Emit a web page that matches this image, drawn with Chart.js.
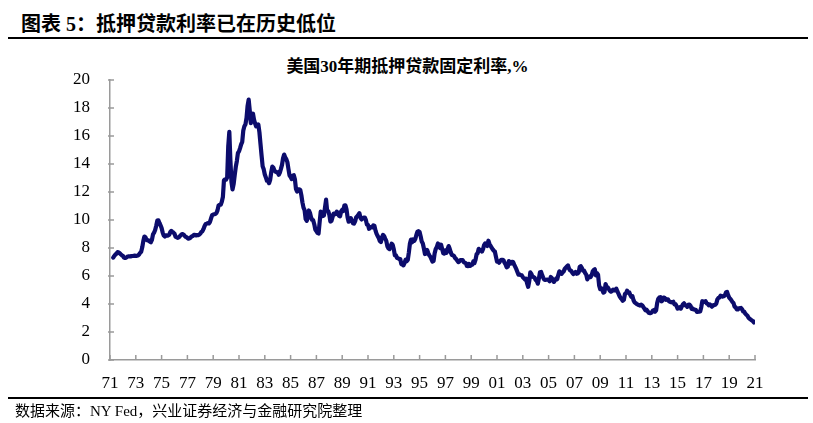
<!DOCTYPE html>
<html>
<head>
<meta charset="utf-8">
<script src="https://cdn.jsdelivr.net/npm/chart.js@4"></script>
<style>
  html, body { margin: 0; padding: 0; background: #fff; }
  #wrap { position: relative; width: 813px; height: 423px; overflow: hidden; font-family: 'Liberation Serif', 'Noto Sans CJK SC', serif; }
  #hdr { position: absolute; left: 21px; top: 8px; font-size: 20px; font-weight: bold; color: #000; white-space: nowrap; }
  #topline { position: absolute; left: 8px; top: 37px; width: 800px; height: 2px; background: #000; }
  #ctitle { position: absolute; left: 0; width: 813px; top: 52px; text-align: center; font-size: 17px; font-weight: bold; color: #000; padding-left: 2px; box-sizing: border-box; }
  #botline { position: absolute; left: 8px; top: 397px; width: 800px; height: 2px; background: #000; }
  #src { position: absolute; left: 15px; top: 399px; font-size: 15px; color: #000; white-space: nowrap; }
  canvas { position: absolute; left: 0; top: 0; }
</style>
</head>
<body>
<div id="wrap">
  <div id="hdr">图表 5：抵押贷款利率已在历史低位</div>
  <div id="topline"></div>
  <div id="ctitle">美国30年期抵押贷款固定利率,%</div>
  <canvas id="c" width="813" height="423"></canvas>
  <div id="botline"></div>
  <div id="src">数据来源：NY Fed，兴业证券经济与金融研究院整理</div>
</div>
<script>
// Monthly 30-year fixed mortgage rate (%), starting April 1971
const startYear = 1971;
const startMonth = 4;
const rates1971_1979 = [
  7.31, 7.43, 7.53, 7.60, 7.70, 7.69, 7.63, 7.55, 7.48,
  7.44, 7.32, 7.29, 7.31, 7.37, 7.40, 7.40, 7.40, 7.42, 7.43, 7.44, 7.45,
  7.44, 7.44, 7.46, 7.54, 7.65, 7.73, 8.05, 8.50, 8.82, 8.77, 8.58, 8.54,
  8.54, 8.46, 8.41, 8.58, 8.97, 9.09, 9.28, 9.59, 9.96, 9.98, 9.79, 9.62,
  9.43, 9.10, 8.89, 8.82, 8.91, 8.89, 8.89, 8.94, 9.13, 9.22, 9.15, 9.10,
  9.02, 8.81, 8.76, 8.73, 8.76, 8.85, 8.93, 9.00, 8.98, 8.92, 8.81, 8.79,
  8.72, 8.67, 8.69, 8.75, 8.83, 8.86, 8.94, 8.94, 8.90, 8.92, 8.92, 8.96,
  9.02, 9.15, 9.20, 9.36, 9.57, 9.71, 9.74, 9.78, 9.76, 9.86, 10.11, 10.35,
  10.39, 10.41, 10.43, 10.50, 10.69, 11.04, 11.09, 11.09, 11.30, 11.64, 12.83, 12.90
];
const rates1980_1989 = [
  12.88, 13.04, 15.28, 16.30, 14.26, 12.71, 12.19, 12.56, 13.20, 13.79, 14.21, 14.79,
  14.90, 15.13, 15.40, 15.58, 16.40, 16.70, 16.83, 17.29, 18.16, 18.60, 17.83, 16.92,
  17.40, 17.60, 17.16, 16.89, 16.68, 16.70, 16.82, 16.27, 15.43, 14.61, 13.83, 13.62,
  13.25, 13.04, 12.80, 12.78, 12.63, 12.87, 13.42, 13.81, 13.73, 13.54, 13.44, 13.42,
  13.37, 13.23, 13.39, 13.65, 13.94, 14.42, 14.67, 14.47, 14.35, 14.13, 13.64, 13.18,
  13.08, 12.92, 13.17, 13.20, 12.91, 12.22, 12.03, 12.19, 12.19, 12.14, 11.78, 11.26,
  10.88, 10.71, 10.08, 9.94, 10.14, 10.68, 10.51, 10.20, 10.01, 9.98, 9.70, 9.32,
  9.20, 9.08, 9.04, 9.83, 10.60, 10.54, 10.28, 10.33, 10.89, 11.45, 10.65, 10.64,
  10.38, 9.89, 9.93, 10.20, 10.46, 10.46, 10.43, 10.60, 10.48, 10.30, 10.27, 10.61,
  10.73, 10.65, 11.03, 11.05, 10.77, 10.20, 9.88, 9.99, 10.13, 9.95, 9.77, 9.74
];
const rates1990_1999 = [
  9.90, 10.20, 10.27, 10.37, 10.48, 10.16, 10.04, 10.10, 10.18, 10.18, 10.01, 9.67,
  9.64, 9.37, 9.50, 9.49, 9.47, 9.62, 9.58, 9.24, 9.01, 8.86, 8.71, 8.50,
  8.43, 8.76, 8.94, 8.85, 8.67, 8.51, 8.13, 7.98, 7.92, 8.09, 8.31, 8.22,
  7.91, 7.47, 7.47, 7.29, 7.27, 7.22, 7.21, 6.85, 6.83, 6.76, 6.93, 7.17,
  7.06, 7.15, 7.68, 8.32, 8.60, 8.40, 8.61, 8.51, 8.64, 8.93, 9.17, 9.20,
  9.15, 8.83, 8.46, 8.32, 7.96, 7.57, 7.61, 7.86, 7.64, 7.48, 7.38, 7.20,
  7.03, 7.08, 7.62, 7.93, 8.07, 8.32, 8.25, 8.00, 8.23, 7.92, 7.62, 7.60,
  7.82, 7.65, 7.90, 8.14, 7.94, 7.69, 7.50, 7.48, 7.43, 7.29, 7.21, 7.10,
  6.99, 7.04, 7.13, 7.14, 7.14, 7.00, 6.95, 6.92, 6.72, 6.71, 6.87, 6.72,
  6.79, 6.81, 7.04, 6.92, 7.15, 7.55, 7.63, 7.94, 7.82, 7.85, 7.74, 7.91
];
const rates2000_2009 = [
  8.21, 8.33, 8.24, 8.15, 8.52, 8.29, 8.15, 8.03, 7.91, 7.80, 7.75, 7.38,
  7.03, 7.05, 6.95, 7.08, 7.15, 7.16, 7.13, 6.95, 6.82, 6.62, 6.66, 7.07,
  7.00, 6.89, 7.01, 6.99, 6.81, 6.65, 6.49, 6.29, 6.09, 6.11, 6.07, 6.05,
  5.92, 5.84, 5.75, 5.81, 5.48, 5.23, 5.63, 6.26, 6.15, 5.95, 5.93, 5.88,
  5.71, 5.64, 5.45, 5.83, 6.27, 6.29, 6.06, 5.87, 5.75, 5.72, 5.73, 5.75,
  5.71, 5.63, 5.93, 5.86, 5.72, 5.58, 5.70, 5.82, 5.77, 6.07, 6.33, 6.27,
  6.15, 6.25, 6.32, 6.51, 6.60, 6.68, 6.76, 6.52, 6.40, 6.36, 6.24, 6.14,
  6.22, 6.29, 6.16, 6.18, 6.26, 6.66, 6.70, 6.57, 6.38, 6.38, 6.21, 6.10,
  5.76, 5.92, 5.97, 5.92, 6.04, 6.32, 6.43, 6.48, 6.04, 6.20, 6.09, 5.33,
  5.06, 5.13, 5.00, 4.81, 4.86, 5.42, 5.22, 5.19, 5.06, 4.95, 4.88, 4.93
];
const rates2010_2021 = [
  5.03, 4.99, 4.97, 5.10, 4.89, 4.74, 4.56, 4.43, 4.35, 4.23, 4.30, 4.71,
  4.76, 4.95, 4.84, 4.84, 4.64, 4.51, 4.55, 4.27, 4.11, 4.07, 3.99, 3.96,
  3.92, 3.89, 3.95, 3.91, 3.80, 3.68, 3.55, 3.60, 3.50, 3.38, 3.35, 3.35,
  3.41, 3.53, 3.57, 3.45, 3.54, 4.07, 4.37, 4.46, 4.49, 4.19, 4.26, 4.46,
  4.43, 4.30, 4.34, 4.34, 4.19, 4.16, 4.13, 4.12, 4.16, 3.98, 4.00, 3.86,
  3.67, 3.71, 3.77, 3.67, 3.84, 3.98, 4.05, 3.91, 3.89, 3.80, 3.94, 3.96,
  3.87, 3.66, 3.69, 3.61, 3.60, 3.57, 3.44, 3.44, 3.46, 3.47, 3.77, 4.20,
  4.15, 4.17, 4.20, 4.05, 4.01, 3.90, 3.97, 3.88, 3.81, 3.90, 3.92, 3.95,
  4.03, 4.33, 4.44, 4.47, 4.59, 4.57, 4.53, 4.55, 4.63, 4.83, 4.87, 4.64,
  4.46, 4.37, 4.27, 4.14, 4.07, 3.80, 3.77, 3.62, 3.61, 3.69, 3.70, 3.72,
  3.62, 3.47, 3.45, 3.31, 3.23, 3.16, 3.02, 2.94, 2.89, 2.83, 2.77, 2.68,
  2.74
];
const xMin = 1971, xMax = 2021, xStep = 2;
const yMin = 0, yMax = 20, yStep = 2;

const allRates = [].concat(rates1971_1979, rates1980_1989, rates1990_1999, rates2000_2009, rates2010_2021);
const points = allRates.map((v, i) => ({ x: startYear + (startMonth - 1 + i) / 12, y: v }));

const axisColor = '#9a9a9a';
const innerTicks = {
  id: 'innerTicks',
  afterDraw(chart) {
    const ctx = chart.ctx;
    const xs = chart.scales.x, ys = chart.scales.y;
    ctx.save();
    ctx.strokeStyle = axisColor;
    ctx.lineWidth = 1.5;
    ctx.beginPath();
    xs.ticks.forEach(t => {
      const px = xs.getPixelForValue(t.value);
      ctx.moveTo(px, ys.bottom);
      ctx.lineTo(px, ys.bottom - 5);
    });
    ys.ticks.forEach(t => {
      const py = ys.getPixelForValue(t.value);
      ctx.moveTo(xs.left - 2, py);
      ctx.lineTo(xs.left + 4, py);
    });
    ctx.stroke();
    ctx.restore();
  }
};

new Chart(document.getElementById('c'), {
  type: 'line',
  data: {
    datasets: [{
      data: points,
      borderColor: '#0c0c6c',
      borderWidth: 4.2,
      pointRadius: 0,
      tension: 0,
      fill: false,
      borderJoinStyle: 'round',
      borderCapStyle: 'round'
    }]
  },
  options: {
    responsive: false,
    animation: false,
    events: [],
    layout: { padding: { left: 0, right: 58, top: 80, bottom: 0 } },
    plugins: { legend: { display: false }, title: { display: false }, tooltip: { enabled: false } },
    scales: {
      x: {
        type: 'linear',
        min: xMin, max: xMax,
        afterFit(s) { s.height = 63; },
        afterBuildTicks(s) {
          const t = [];
          for (let v = xMin; v <= xMax; v += xStep) t.push({ value: v });
          s.ticks = t;
        },
        ticks: {
          padding: 13,
          maxRotation: 0,
          autoSkip: false,
          color: '#000',
          font: { family: "'Liberation Serif', serif", size: 17 },
          callback: v => String(v % 100).padStart(2, '0')
        },
        grid: { display: false, drawTicks: false },
        border: { display: true, color: axisColor, width: 1.5 }
      },
      y: {
        min: yMin, max: yMax,
        afterFit(s) { s.width = 110; },
        ticks: {
          stepSize: yStep,
          padding: 20,
          color: '#000',
          font: { family: "'Liberation Serif', serif", size: 17 }
        },
        grid: { display: false, drawTicks: false },
        border: { display: true, color: axisColor, width: 1.5 }
      }
    }
  },
  plugins: [innerTicks]
});
</script>
</body>
</html>
